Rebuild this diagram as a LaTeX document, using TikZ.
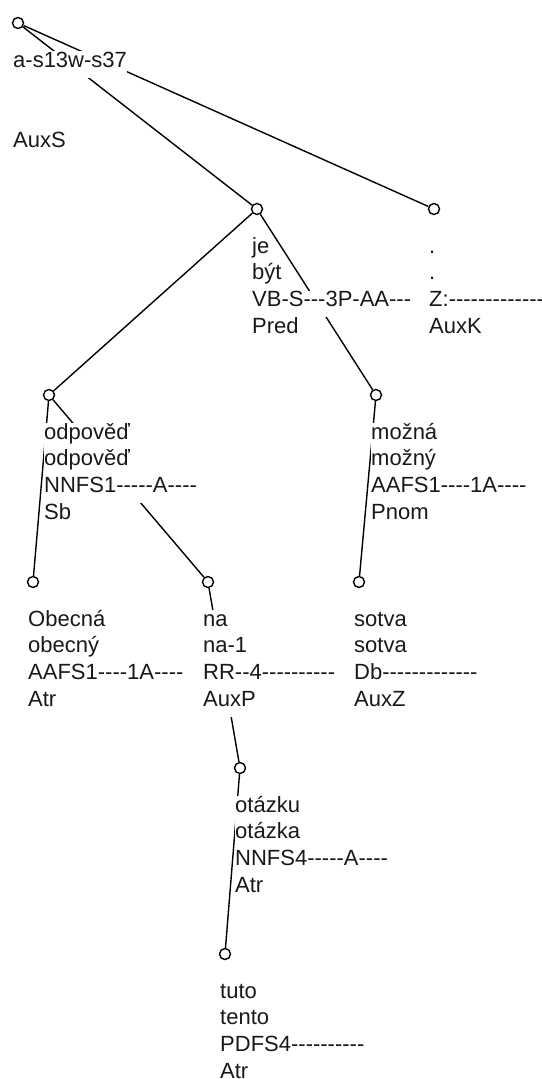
\documentclass[tikz,border=0pt]{standalone}
\usepackage{fontspec}
\setmainfont{Liberation Sans}[Ligatures=TeXOff]
\newcommand\tlabel[7]{%
  \node[lbl] (#1-a) at (#2-5.5,#3+44) {#4};
  \node[lbl] (#1-b) at (#2-5.5,#3+70.8) {#5};
  \node[lbl] (#1-c) at (#2-5.5,#3+97.6) {#6};
  \node[lbl] (#1-d) at (#2-5.5,#3+124.4) {#7};
}
\begin{document}
\begin{tikzpicture}[x=1pt,y=-1pt,
  dot/.style={circle,draw=black,fill=white,line width=1.4pt,minimum size=11pt,inner sep=0pt},
  edge/.style={draw=black,line width=1.4pt},
  lbl/.style={anchor=base west,fill=white,inner xsep=0.5pt,inner ysep=0pt,
    text height=16pt,text depth=10.8pt,text=black!90,font=\fontsize{22}{26.8}\selectfont}]
\useasboundingbox (0,0) rectangle (541,1079);
% nodes
\node[dot] (root)   at (18,23)  {};
\node[dot] (je)     at (257,209) {};
\node[dot] (period) at (434,209) {};
\node[dot] (odp)    at (49,395) {};
\node[dot] (mozna)  at (376,395) {};
\node[dot] (obecna) at (33,582) {};
\node[dot] (na)     at (208,582) {};
\node[dot] (sotva)  at (359,582) {};
\node[dot] (otazku) at (240,768) {};
\node[dot] (tuto)   at (225,954) {};
% edges
\draw[edge] (root) -- (je);
\draw[edge] (root) -- (period);
\draw[edge] (je) -- (odp);
\draw[edge] (je) -- (mozna);
\draw[edge] (odp) -- (obecna);
\draw[edge] (odp) -- (na);
\draw[edge] (mozna) -- (sotva);
\draw[edge] (na) -- (otazku);
\draw[edge] (otazku) -- (tuto);
% labels
\tlabel{lroot}{18}{23}{a-s13w-s37}{}{}{AuxS}
\tlabel{lje}{257}{209}{je}{být}{VB-S---3P-AA---}{Pred}
\tlabel{lperiod}{434}{209}{.}{.}{Z:-------------}{AuxK}
\tlabel{lodp}{49}{395}{odpověď}{odpověď}{NNFS1-----A----}{Sb}
\tlabel{lmozna}{376}{395}{možná}{možný}{AAFS1----1A----}{Pnom}
\tlabel{lobecna}{33}{582}{Obecná}{obecný}{AAFS1----1A----}{Atr}
\tlabel{lna}{208}{582}{na}{na-1}{RR--4----------}{AuxP}
\tlabel{lsotva}{359}{582}{sotva}{sotva}{Db-------------}{AuxZ}
\tlabel{lotazku}{240}{768}{otázku}{otázka}{NNFS4-----A----}{Atr}
\tlabel{ltuto}{225}{954}{tuto}{tento}{PDFS4----------}{Atr}
\end{tikzpicture}
\end{document}
